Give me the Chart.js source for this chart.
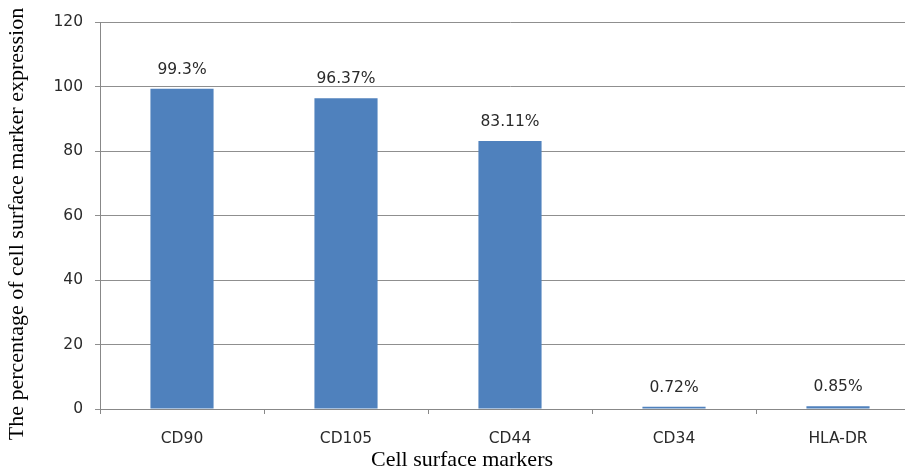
<!DOCTYPE html>
<html>
<head>
<meta charset="utf-8">
<script src="https://cdn.jsdelivr.net/npm/chart.js@4/dist/chart.umd.min.js"></script>
<style>
  html, body { margin: 0; padding: 0; background: #fff; overflow: hidden; }
  #wrap { width: 920px; height: 471px; }
</style>
</head>
<body>
<div id="wrap"><canvas id="c" width="920" height="471"></canvas></div>
<script>
// Flow cytometry: share of cells expressing each surface marker
const markers = ['CD90', 'CD105', 'CD44', 'CD34', 'HLA-DR'];
const expression = [99.3, 96.37, 83.11, 0.72, 0.85];
const valueLabels = ['99.3%', '96.37%', '83.11%', '0.72%', '0.85%'];
const yTicks = [0, 20, 40, 60, 80, 100, 120];

const tickFont = { family: '"DejaVu Sans", Verdana, sans-serif', size: 15.5 };
const titleFont = '22px "Liberation Serif", "Times New Roman", serif';

// Percent labels above each bar plus the two axis titles
const annotations = {
  id: 'annotations',
  afterDatasetsDraw(chart) {
    const ctx = chart.ctx;
    const meta = chart.getDatasetMeta(0);
    ctx.save();
    ctx.fillStyle = '#2a2a2a';
    ctx.font = tickFont.size + 'px ' + tickFont.family;
    ctx.textAlign = 'center';
    ctx.textBaseline = 'alphabetic';
    meta.data.forEach((bar, i) => {
      ctx.fillText(valueLabels[i], bar.x, bar.y - 15);
    });

    ctx.font = titleFont;
    ctx.fillStyle = '#000';
    ctx.textBaseline = 'middle';
    ctx.fillText('Cell surface markers', 462, 460);

    ctx.translate(17, 224);
    ctx.rotate(-Math.PI / 2);
    ctx.fillText('The percentage of cell surface marker expression', 0, 0);
    ctx.restore();
  }
};

new Chart(document.getElementById('c'), {
  type: 'bar',
  data: {
    labels: markers,
    datasets: [{
      data: expression,
      backgroundColor: '#4F81BD',
      borderWidth: 0,
      categoryPercentage: 1,
      barPercentage: 0.385
    }]
  },
  options: {
    responsive: false,
    animation: false,
    layout: { padding: { top: 22, right: 0, left: 0, bottom: 0 } },
    plugins: { legend: { display: false }, tooltip: { enabled: false } },
    scales: {
      x: {
        afterFit(scale) { scale.height = 62; },
        grid: {
          offset: true,
          drawOnChartArea: false,
          drawTicks: true,
          tickLength: 5,
          color: '#888'
        },
        border: { color: '#888', width: 1 },
        ticks: { color: '#2a2a2a', font: tickFont, padding: 16, maxRotation: 0 }
      },
      y: {
        min: 0,
        max: 120,
        afterFit(scale) { scale.width = 100; },
        afterBuildTicks(scale) { scale.ticks = yTicks.map(v => ({ value: v })); },
        grid: { color: '#8f8f8f', lineWidth: 1, tickLength: 5 },
        border: { color: '#888', width: 1 },
        ticks: { color: '#2a2a2a', font: tickFont, padding: 12 }
      }
    }
  },
  plugins: [annotations]
});
</script>
</body>
</html>
